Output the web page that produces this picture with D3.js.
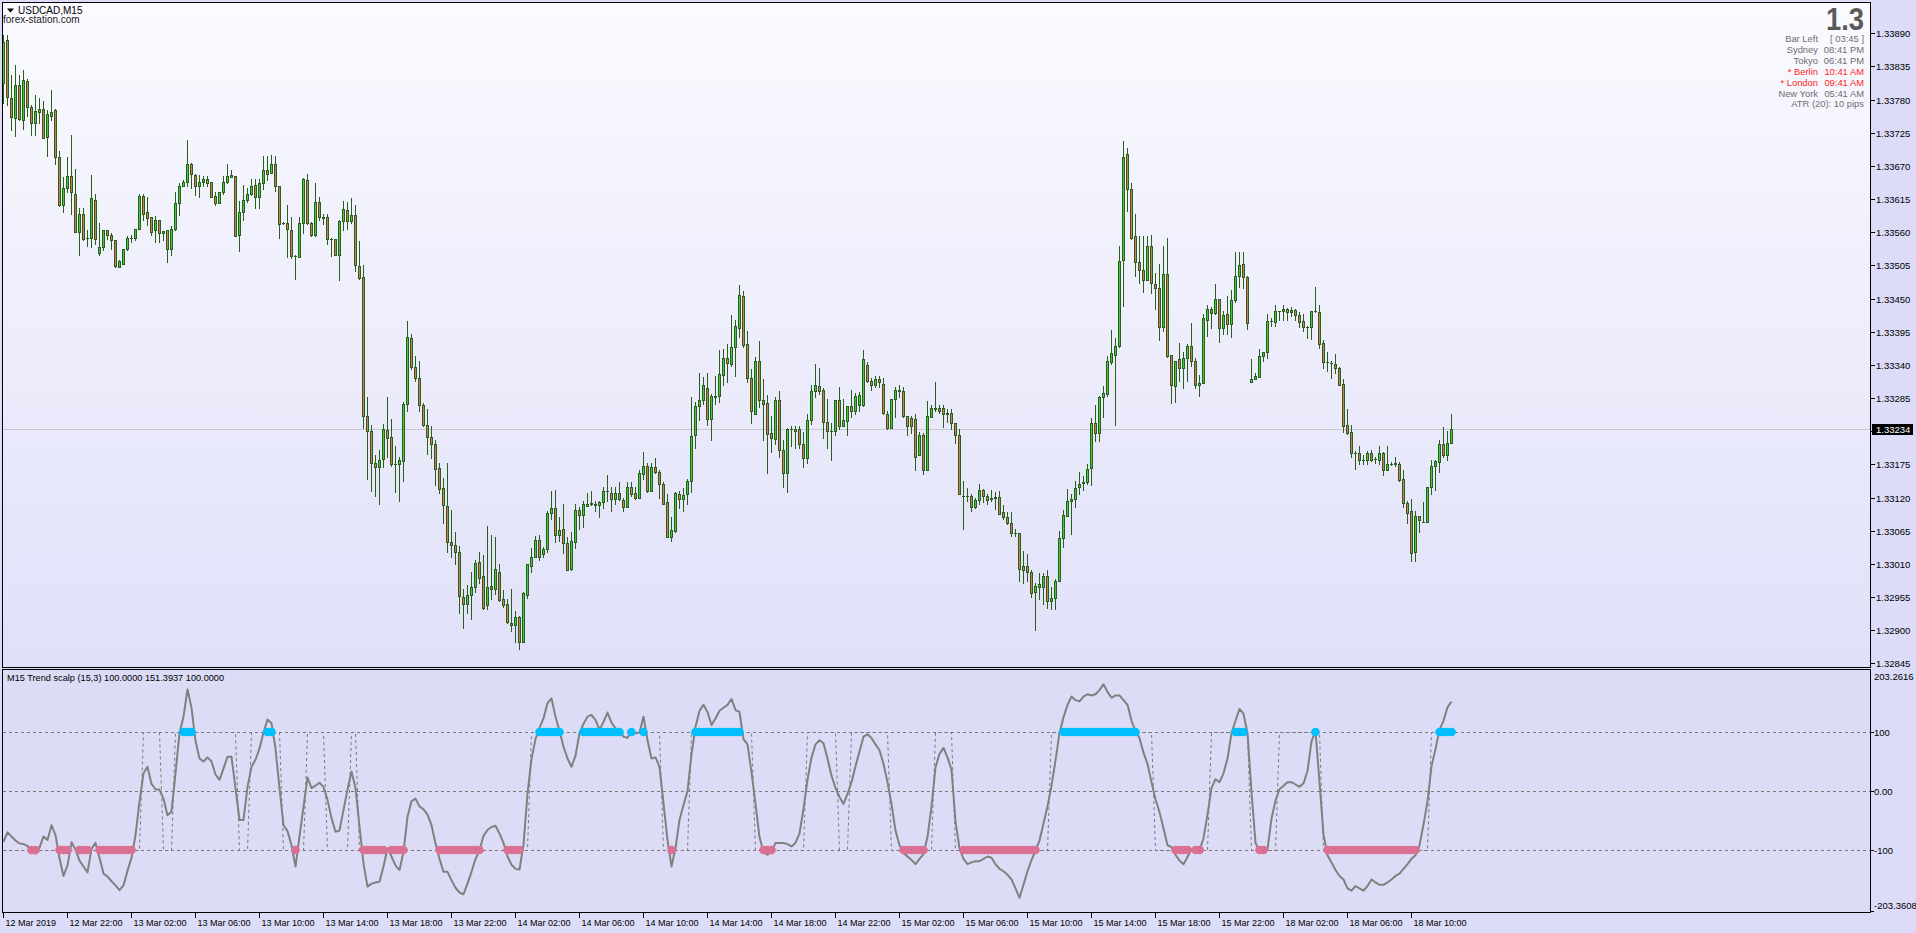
<!DOCTYPE html>
<html><head><meta charset="utf-8">
<script src="https://cdn.jsdelivr.net/npm/d3@7"></script>
<style>
body{margin:0;background:#DCDCF8;overflow:hidden}
svg{display:block}
text{font-family:"Liberation Sans",Arial,sans-serif}
</style>
</head><body>
<svg id="c" width="1916" height="933"></svg>
<script>
// ---------- DATA ----------
const openP=[1.33807,1.33879,1.33782,1.33749,1.33805,1.33747,1.33811,1.33767,1.33741,1.33760,
1.33764,1.33718,1.33753,1.33763,1.33685,1.33606,1.33634,1.33654,1.33624,1.33561,
1.33591,1.33551,1.33550,1.33614,1.33525,1.33536,1.33563,1.33555,1.33547,1.33503,
1.33508,1.33532,1.33551,1.33551,1.33566,1.33620,1.33593,1.33585,1.33563,1.33581,
1.33558,1.33563,1.33532,1.33565,1.33608,1.33637,1.33644,1.33674,1.33655,1.33636,
1.33643,1.33648,1.33643,1.33620,1.33609,1.33626,1.33644,1.33652,1.33653,1.33555,
1.33594,1.33614,1.33623,1.33638,1.33619,1.33641,1.33663,1.33658,1.33674,1.33637,
1.33575,1.33575,1.33564,1.33520,1.33519,1.33576,1.33646,1.33576,1.33556,1.33611,
1.33583,1.33586,1.33548,1.33548,1.33523,1.33578,1.33597,1.33578,1.33588,1.33504,
1.33486,1.33255,1.33230,1.33177,1.33170,1.33184,1.33232,1.33220,1.33176,1.33176,
1.33180,1.33275,1.33385,1.33337,1.33318,1.33274,1.33240,1.33220,1.33209,1.33169,
1.33136,1.33106,1.33046,1.33041,1.33029,1.32955,1.32943,1.32958,1.32972,1.33013,
1.32990,1.32942,1.32973,1.32968,1.32996,1.32952,1.32943,1.32912,1.32909,1.32922,
1.32880,1.32959,1.33007,1.33021,1.33050,1.33026,1.33035,1.33095,1.33103,1.33058,
1.33068,1.33045,1.33001,1.33046,1.33099,1.33091,1.33106,1.33109,1.33110,1.33108,
1.33112,1.33130,1.33128,1.33117,1.33128,1.33116,1.33105,1.33137,1.33128,1.33119,
1.33159,1.33172,1.33131,1.33171,1.33162,1.33142,1.33113,1.33054,1.33065,1.33126,
1.33118,1.33126,1.33147,1.33224,1.33271,1.33282,1.33302,1.33250,1.33286,1.33288,
1.33323,1.33351,1.33341,1.33370,1.33401,1.33454,1.33375,1.33318,1.33259,1.33347,
1.33282,1.33277,1.33227,1.33217,1.33282,1.33199,1.33161,1.33234,1.33234,1.33234,
1.33209,1.33185,1.33249,1.33297,1.33305,1.33298,1.33245,1.33230,1.33230,1.33281,
1.33238,1.33247,1.33271,1.33263,1.33274,1.33274,1.33340,1.33313,1.33306,1.33317,
1.33308,1.33259,1.33235,1.33283,1.33298,1.33297,1.33256,1.33252,1.33251,1.33190,
1.33223,1.33166,1.33254,1.33266,1.33269,1.33269,1.33260,1.33260,1.33244,1.33224,
1.33123,1.33123,1.33123,1.33104,1.33116,1.33133,1.33123,1.33119,1.33119,1.33121,
1.33096,1.33088,1.33077,1.33061,1.33061,1.33007,1.33006,1.32997,1.32963,1.32971,
1.32971,1.32989,1.32948,1.32953,1.32982,1.33053,1.33090,1.33114,1.33118,1.33137,
1.33144,1.33145,1.33169,1.33244,1.33227,1.33286,1.33292,1.33345,1.33357,1.33371,
1.33514,1.33689,1.33632,1.33553,1.33510,1.33498,1.33481,1.33537,1.33474,1.33468,
1.33403,1.33490,1.33357,1.33305,1.33349,1.33334,1.33352,1.33371,1.33347,1.33307,
1.33310,1.33415,1.33433,1.33426,1.33450,1.33401,1.33425,1.33407,1.33447,1.33488,
1.33508,1.33485,1.33311,1.33317,1.33320,1.33355,1.33361,1.33412,1.33411,1.33429,
1.33429,1.33433,1.33428,1.33431,1.33423,1.33412,1.33403,1.33403,1.33429,1.33428,
1.33377,1.33344,1.33343,1.33342,1.33334,1.33309,1.33240,1.33229,1.33194,1.33194,
1.33183,1.33183,1.33194,1.33184,1.33183,1.33194,1.33166,1.33176,1.33175,1.33175,
1.33151,1.33111,1.33097,1.33029,1.33089,1.33080,1.33079,1.33138,1.33172,1.33179,
1.33209,1.33190,1.33211];
const highP=[1.33887,1.33887,1.33821,1.33837,1.33821,1.33829,1.33815,1.33771,1.33788,1.33782,
1.33777,1.33762,1.33796,1.33765,1.33694,1.33652,1.33685,1.33722,1.33665,1.33600,
1.33600,1.33564,1.33655,1.33624,1.33575,1.33564,1.33564,1.33558,1.33547,1.33514,
1.33533,1.33553,1.33555,1.33566,1.33623,1.33624,1.33619,1.33586,1.33587,1.33581,
1.33562,1.33563,1.33570,1.33626,1.33641,1.33647,1.33713,1.33675,1.33657,1.33655,
1.33654,1.33654,1.33643,1.33626,1.33627,1.33653,1.33673,1.33663,1.33654,1.33612,
1.33638,1.33633,1.33648,1.33648,1.33648,1.33686,1.33686,1.33688,1.33686,1.33637,
1.33577,1.33605,1.33586,1.33522,1.33585,1.33650,1.33657,1.33577,1.33641,1.33619,
1.33591,1.33591,1.33550,1.33548,1.33580,1.33612,1.33611,1.33616,1.33605,1.33546,
1.33506,1.33287,1.33241,1.33191,1.33198,1.33242,1.33287,1.33251,1.33206,1.33188,
1.33279,1.33413,1.33392,1.33355,1.33347,1.33277,1.33267,1.33239,1.33215,1.33177,
1.33152,1.33178,1.33100,1.33063,1.33040,1.32968,1.32975,1.32997,1.33017,1.33030,
1.33025,1.33072,1.33057,1.33054,1.33010,1.32967,1.32951,1.32969,1.32932,1.32924,
1.32964,1.33010,1.33036,1.33056,1.33057,1.33038,1.33097,1.33130,1.33133,1.33088,
1.33109,1.33054,1.33063,1.33109,1.33105,1.33115,1.33128,1.33130,1.33115,1.33115,
1.33138,1.33158,1.33138,1.33138,1.33145,1.33119,1.33146,1.33146,1.33138,1.33166,
1.33196,1.33178,1.33177,1.33186,1.33166,1.33146,1.33126,1.33088,1.33129,1.33130,
1.33136,1.33151,1.33287,1.33279,1.33327,1.33320,1.33327,1.33291,1.33322,1.33365,
1.33366,1.33374,1.33422,1.33415,1.33473,1.33462,1.33397,1.33333,1.33353,1.33380,
1.33317,1.33290,1.33256,1.33287,1.33296,1.33215,1.33236,1.33239,1.33238,1.33239,
1.33229,1.33258,1.33307,1.33342,1.33334,1.33301,1.33284,1.33243,1.33282,1.33304,
1.33284,1.33272,1.33298,1.33293,1.33295,1.33365,1.33345,1.33318,1.33322,1.33322,
1.33319,1.33264,1.33283,1.33303,1.33306,1.33304,1.33256,1.33256,1.33258,1.33228,
1.33227,1.33280,1.33274,1.33312,1.33274,1.33274,1.33267,1.33266,1.33244,1.33233,
1.33148,1.33135,1.33126,1.33119,1.33142,1.33134,1.33126,1.33133,1.33129,1.33130,
1.33107,1.33096,1.33096,1.33068,1.33061,1.33031,1.33026,1.33000,1.32978,1.32995,
1.32994,1.32999,1.32971,1.32985,1.33065,1.33100,1.33134,1.33126,1.33147,1.33162,
1.33155,1.33176,1.33252,1.33274,1.33288,1.33305,1.33355,1.33398,1.33385,1.33537,
1.33712,1.33699,1.33642,1.33591,1.33553,1.33553,1.33553,1.33556,1.33492,1.33508,
1.33537,1.33551,1.33357,1.33347,1.33377,1.33361,1.33375,1.33410,1.33351,1.33324,
1.33424,1.33440,1.33436,1.33474,1.33450,1.33430,1.33455,1.33464,1.33527,1.33527,
1.33527,1.33488,1.33349,1.33327,1.33367,1.33362,1.33424,1.33417,1.33439,1.33430,
1.33440,1.33435,1.33436,1.33433,1.33428,1.33425,1.33405,1.33430,1.33470,1.33439,
1.33381,1.33362,1.33347,1.33358,1.33336,1.33317,1.33266,1.33240,1.33197,1.33205,
1.33190,1.33197,1.33198,1.33188,1.33205,1.33195,1.33205,1.33179,1.33188,1.33179,
1.33166,1.33115,1.33118,1.33097,1.33090,1.33113,1.33138,1.33182,1.33182,1.33216,
1.33237,1.33230,1.33259];
const lowP=[1.33774,1.33771,1.33730,1.33720,1.33746,1.33732,1.33752,1.33721,1.33721,1.33741,
1.33716,1.33686,1.33746,1.33673,1.33603,1.33594,1.33627,1.33591,1.33560,1.33522,
1.33547,1.33537,1.33536,1.33541,1.33522,1.33530,1.33548,1.33532,1.33502,1.33502,
1.33508,1.33530,1.33543,1.33547,1.33565,1.33580,1.33572,1.33555,1.33544,1.33544,
1.33547,1.33511,1.33522,1.33563,1.33588,1.33636,1.33636,1.33633,1.33622,1.33619,
1.33636,1.33636,1.33619,1.33605,1.33609,1.33624,1.33641,1.33652,1.33553,1.33529,
1.33580,1.33611,1.33621,1.33600,1.33601,1.33631,1.33647,1.33658,1.33629,1.33550,
1.33574,1.33519,1.33518,1.33483,1.33519,1.33558,1.33574,1.33554,1.33554,1.33580,
1.33574,1.33541,1.33520,1.33522,1.33481,1.33564,1.33566,1.33576,1.33495,1.33483,
1.33235,1.33150,1.33130,1.33122,1.33109,1.33171,1.33187,1.33173,1.33129,1.33114,
1.33147,1.33263,1.33333,1.33313,1.33263,1.33239,1.33193,1.33186,1.33141,1.33127,
1.33077,1.33029,1.33021,1.33009,1.32929,1.32903,1.32928,1.32918,1.32963,1.32978,
1.32935,1.32935,1.32952,1.32960,1.32948,1.32939,1.32912,1.32899,1.32880,1.32868,
1.32880,1.32953,1.32996,1.33021,1.33016,1.33021,1.33029,1.33084,1.33046,1.33048,
1.33028,1.32999,1.33000,1.33037,1.33068,1.33071,1.33106,1.33108,1.33098,1.33088,
1.33102,1.33115,1.33098,1.33109,1.33116,1.33098,1.33104,1.33123,1.33117,1.33119,
1.33151,1.33129,1.33130,1.33160,1.33119,1.33109,1.33054,1.33048,1.33062,1.33102,
1.33098,1.33109,1.33129,1.33202,1.33249,1.33275,1.33240,1.33215,1.33275,1.33278,
1.33307,1.33311,1.33338,1.33321,1.33386,1.33369,1.33311,1.33243,1.33259,1.33270,
1.33216,1.33160,1.33195,1.33209,1.33187,1.33137,1.33129,1.33206,1.33202,1.33202,
1.33170,1.33177,1.33242,1.33286,1.33292,1.33218,1.33202,1.33183,1.33223,1.33234,
1.33238,1.33224,1.33253,1.33258,1.33263,1.33272,1.33311,1.33299,1.33304,1.33303,
1.33258,1.33233,1.33235,1.33253,1.33286,1.33253,1.33224,1.33227,1.33166,1.33190,
1.33159,1.33166,1.33253,1.33264,1.33260,1.33237,1.33245,1.33233,1.33210,1.33126,
1.33067,1.33114,1.33097,1.33103,1.33110,1.33112,1.33109,1.33114,1.33101,1.33092,
1.33084,1.33076,1.33056,1.33056,1.32982,1.32978,1.32982,1.32955,1.32900,1.32952,
1.32944,1.32937,1.32935,1.32935,1.32981,1.33038,1.33089,1.33059,1.33104,1.33125,
1.33132,1.33143,1.33140,1.33213,1.33213,1.33253,1.33288,1.33342,1.33240,1.33370,
1.33438,1.33596,1.33549,1.33487,1.33475,1.33461,1.33480,1.33459,1.33433,1.33381,
1.33397,1.33353,1.33277,1.33278,1.33313,1.33302,1.33313,1.33338,1.33302,1.33289,
1.33310,1.33388,1.33402,1.33425,1.33378,1.33392,1.33391,1.33386,1.33445,1.33469,
1.33467,1.33399,1.33311,1.33317,1.33320,1.33347,1.33352,1.33404,1.33404,1.33414,
1.33414,1.33415,1.33421,1.33415,1.33403,1.33396,1.33385,1.33383,1.33428,1.33368,
1.33334,1.33330,1.33318,1.33326,1.33306,1.33229,1.33225,1.33188,1.33168,1.33176,
1.33176,1.33176,1.33180,1.33177,1.33176,1.33158,1.33165,1.33174,1.33173,1.33148,
1.33104,1.33078,1.33014,1.33015,1.33063,1.33079,1.33079,1.33125,1.33133,1.33162,
1.33187,1.33182,1.33211];
const closeP=[1.33876,1.33784,1.33751,1.33804,1.33748,1.33812,1.33767,1.33741,1.33761,1.33764,
1.33717,1.33756,1.33759,1.33684,1.33606,1.33634,1.33653,1.33626,1.33561,1.33590,
1.33549,1.33551,1.33616,1.33548,1.33536,1.33563,1.33556,1.33547,1.33504,1.33512,
1.33532,1.33550,1.33551,1.33566,1.33620,1.33591,1.33583,1.33561,1.33580,1.33558,
1.33562,1.33533,1.33565,1.33608,1.33637,1.33644,1.33673,1.33656,1.33636,1.33644,
1.33649,1.33642,1.33619,1.33609,1.33626,1.33644,1.33653,1.33655,1.33554,1.33593,
1.33614,1.33623,1.33637,1.33619,1.33641,1.33664,1.33656,1.33674,1.33637,1.33573,
1.33575,1.33565,1.33521,1.33520,1.33576,1.33648,1.33576,1.33556,1.33611,1.33586,
1.33586,1.33548,1.33548,1.33523,1.33578,1.33598,1.33578,1.33588,1.33506,1.33484,
1.33255,1.33230,1.33178,1.33170,1.33182,1.33234,1.33219,1.33176,1.33176,1.33182,
1.33275,1.33386,1.33336,1.33318,1.33274,1.33240,1.33220,1.33209,1.33168,1.33134,
1.33107,1.33046,1.33042,1.33029,1.32957,1.32943,1.32959,1.32972,1.33011,1.32986,
1.32936,1.32972,1.32969,1.33001,1.32950,1.32942,1.32913,1.32909,1.32922,1.32880,
1.32961,1.33009,1.33021,1.33050,1.33021,1.33035,1.33094,1.33103,1.33058,1.33066,
1.33045,1.33000,1.33048,1.33099,1.33091,1.33109,1.33109,1.33111,1.33107,1.33113,
1.33130,1.33130,1.33117,1.33127,1.33117,1.33104,1.33137,1.33125,1.33119,1.33161,
1.33172,1.33131,1.33171,1.33162,1.33142,1.33110,1.33054,1.33066,1.33128,1.33118,
1.33124,1.33147,1.33222,1.33271,1.33282,1.33307,1.33251,1.33288,1.33288,1.33325,
1.33351,1.33343,1.33370,1.33405,1.33456,1.33373,1.33318,1.33263,1.33347,1.33282,
1.33275,1.33225,1.33219,1.33282,1.33199,1.33161,1.33234,1.33234,1.33231,1.33209,
1.33185,1.33249,1.33297,1.33307,1.33297,1.33245,1.33230,1.33230,1.33281,1.33238,
1.33249,1.33271,1.33263,1.33289,1.33290,1.33349,1.33313,1.33306,1.33317,1.33311,
1.33260,1.33235,1.33283,1.33298,1.33296,1.33255,1.33238,1.33238,1.33188,1.33223,
1.33166,1.33256,1.33269,1.33269,1.33264,1.33259,1.33258,1.33244,1.33224,1.33126,
1.33123,1.33123,1.33105,1.33116,1.33133,1.33123,1.33116,1.33117,1.33121,1.33093,
1.33087,1.33077,1.33061,1.33061,1.33001,1.33000,1.32996,1.32961,1.32974,1.32976,
1.32989,1.32948,1.32953,1.32982,1.33053,1.33091,1.33115,1.33118,1.33136,1.33142,
1.33145,1.33168,1.33244,1.33227,1.33286,1.33294,1.33346,1.33360,1.33371,1.33513,
1.33685,1.33632,1.33551,1.33511,1.33498,1.33481,1.33537,1.33476,1.33468,1.33403,
1.33490,1.33355,1.33307,1.33347,1.33334,1.33352,1.33371,1.33347,1.33307,1.33310,
1.33417,1.33433,1.33426,1.33450,1.33401,1.33423,1.33407,1.33448,1.33488,1.33506,
1.33486,1.33409,1.33317,1.33321,1.33355,1.33362,1.33412,1.33412,1.33429,1.33429,
1.33433,1.33428,1.33431,1.33423,1.33411,1.33403,1.33403,1.33429,1.33429,1.33375,
1.33344,1.33344,1.33343,1.33334,1.33307,1.33238,1.33227,1.33194,1.33194,1.33183,
1.33183,1.33194,1.33183,1.33184,1.33194,1.33166,1.33176,1.33176,1.33177,1.33149,
1.33111,1.33095,1.33028,1.33089,1.33083,1.33080,1.33138,1.33172,1.33180,1.33209,
1.33190,1.33211,1.33234];
const trendScalp=[-86,-70,-77,-84,-89,-90,-93,-104,-106,-96,
-77,-83,-58,-75,-114,-144,-126,-87,-99,-118,
-128,-138,-98,-88,-113,-140,-145,-153,-160,-168,
-160,-135,-113,-75,-18,30,41,12,3,2,
-13,-41,-35,30,98,126,172,141,85,55,
50,57,50,28,19,38,58,58,5,-49,
-49,7,41,53,72,99,121,115,72,5,
-58,-68,-92,-128,-77,-27,23,5,9,14,
7,-15,-46,-69,-67,-32,2,33,5,-60,
-123,-162,-157,-155,-154,-128,-97,-111,-126,-134,
-103,-44,-17,-13,-26,-31,-40,-58,-89,-115,
-137,-137,-151,-164,-172,-175,-157,-137,-115,-101,
-76,-66,-61,-59,-72,-88,-111,-125,-132,-133,
-91,-5,54,88,107,123,149,157,126,102,
75,55,41,60,98,114,126,129,120,104,
117,133,116,106,103,92,90,103,98,99,
126,86,55,57,41,-21,-83,-128,-97,-49,
-24,0,62,109,136,146,134,112,123,136,
141,146,156,137,134,88,79,32,-22,-78,
-104,-108,-103,-88,-88,-88,-90,-94,-88,-72,
-30,19,57,79,86,81,55,26,5,-10,
-22,-5,15,42,67,92,96,90,79,69,
46,15,-22,-67,-92,-105,-111,-117,-124,-115,
-107,-78,-26,40,63,73,57,36,-51,-97,
-115,-124,-121,-119,-119,-115,-111,-113,-124,-132,
-136,-142,-150,-165,-181,-159,-136,-117,-101,-84,
-55,-26,9,52,98,125,146,160,154,152,
160,164,162,164,171,181,168,158,162,162,
154,146,119,102,90,65,46,15,-14,-36,
-63,-92,-95,-108,-118,-124,-112,-98,-105,-101,
-80,-40,5,20,15,30,55,98,119,139,
131,98,-1,-88,-101,-101,-99,-47,-16,3,
9,15,15,11,7,13,34,84,102,15,
-74,-109,-121,-134,-144,-150,-165,-169,-161,-165,
-169,-161,-150,-155,-159,-159,-155,-150,-144,-140,
-132,-124,-115,-109,-92,-57,-18,42,71,104,
119,142,151.3937];
const trendStart=-100;
const trendFlips=[35,40,43,59,62,70,76,81,87,89,132,165,172,188,201,209,212,222,233,238,262,288,302,312,319,330,357];
const priceTicks=d3.range(20).map(k=>+(1.32845+0.00055*k).toFixed(5));
const timeBars=d3.range(23).map(k=>k*16);
const timeLabels=["12 Mar 2019","12 Mar 22:00","13 Mar 02:00","13 Mar 06:00","13 Mar 10:00","13 Mar 14:00","13 Mar 18:00","13 Mar 22:00","14 Mar 02:00","14 Mar 06:00","14 Mar 10:00","14 Mar 14:00","14 Mar 18:00","14 Mar 22:00","15 Mar 02:00","15 Mar 06:00","15 Mar 10:00","15 Mar 14:00","15 Mar 18:00","15 Mar 22:00","18 Mar 02:00","18 Mar 06:00","18 Mar 10:00"];
const oscLevels=[100,0,-100];
const oscLevelLabels=["100","0.00","-100"];
const oscMax=203.2616, oscMin=-203.3608;
const lastPrice=1.33234;
const infoLabels=["Bar Left","Sydney","Tokyo","* Berlin","* London","New York"];
const infoValues=["[ 03:45 ]","08:41 PM","06:41 PM","10:41 AM","09:41 AM","05:41 AM"];
const infoRed=[false,false,false,true,true,false];
const atrText="ATR (20): 10 pips";

// ---------- DRAW ----------
const svg=d3.select("#c");
const defs=svg.append("defs");
const g=defs.append("linearGradient").attr("id","bg").attr("x1",0).attr("y1",0).attr("x2",0).attr("y2",1);
g.append("stop").attr("offset","0%").attr("stop-color","#FAFAFF");
g.append("stop").attr("offset","100%").attr("stop-color","#E0E0F9");
defs.append("clipPath").attr("id","mainClip").append("rect").attr("x",3).attr("y",3).attr("width",1867).attr("height",664);
defs.append("clipPath").attr("id","oscClip").append("rect").attr("x",3).attr("y",670).attr("width",1867).attr("height",242);

svg.append("rect").attr("width",1916).attr("height",933).attr("fill","#DCDCF8");
svg.append("rect").attr("x",2.5).attr("y",2.5).attr("width",1868).attr("height",665).attr("fill","url(#bg)").attr("stroke","#000");
svg.append("rect").attr("x",2.5).attr("y",669.5).attr("width",1868).attr("height",243).attr("fill","#DCDCF6").attr("stroke","#000");

const N=closeP.length;
const x=d3.scaleLinear().domain([0,N-1]).range([3.5,3.5+4*(N-1)]);
const y=d3.scaleLinear().domain([1.32845,1.33890]).range([663.3,33.3]);
const yo=d3.scaleLinear().domain([-100,100]).range([850,732]);

const main=svg.append("g").attr("clip-path","url(#mainClip)");
main.append("line").attr("x1",3).attr("x2",1870).attr("y1",Math.round(y(lastPrice))+0.5).attr("y2",Math.round(y(lastPrice))+0.5).attr("stroke","#C8C8D0");

const wickC="#2A5E1E", bullC="#3FCB3A", bearC="#D27A50";
const cg=main.append("g");
d3.range(N).forEach(i=>{
  const cx=x(i), o=openP[i], c=closeP[i];
  cg.append("line").attr("x1",cx).attr("x2",cx).attr("y1",Math.round(y(highP[i]))).attr("y2",Math.round(y(lowP[i]))+1).attr("stroke",wickC);
  const t=Math.round(y(Math.max(o,c)))+0.5, b=Math.round(y(Math.min(o,c)))+0.5;
  if(b-t<1){
    cg.append("line").attr("x1",cx-1.5).attr("x2",cx+1.5).attr("y1",t).attr("y2",t).attr("stroke",wickC);
  } else {
    cg.append("rect").attr("x",cx-1).attr("y",t).attr("width",2).attr("height",b-t)
      .attr("fill",c>=o?bullC:bearC).attr("stroke",wickC).attr("stroke-width",1);
  }
});

// title
svg.append("path").attr("d","M7,8.5 L14,8.5 L10.5,12.5 Z").attr("fill","#000");
svg.append("text").attr("x",18).attr("y",13.5).attr("font-size",10).attr("fill","#000").text("USDCAD,M15");
svg.append("text").attr("x",3).attr("y",23).attr("font-size",10).attr("fill","#222").text("forex-station.com");

// info block
svg.append("text").attr("x",1826).attr("y",30).attr("font-size",32).attr("font-weight","bold").attr("fill","#5A5A5A")
  .attr("textLength",38).attr("lengthAdjust","spacingAndGlyphs").text("1.3");
infoLabels.forEach((l,k)=>{
  const col=infoRed[k]?"#FF1E1E":"#6E6E6E";
  svg.append("text").attr("x",1818).attr("y",42+k*10.9).attr("text-anchor","end").attr("font-size",9.4).attr("fill",col).text(l);
  svg.append("text").attr("x",1864).attr("y",42+k*10.9).attr("text-anchor","end").attr("font-size",9.4).attr("fill",col).text(infoValues[k]);
});
svg.append("text").attr("x",1864).attr("y",42+6*10.9).attr("text-anchor","end").attr("font-size",9.4).attr("fill","#6E6E6E").text(atrText);

// price axis
const pa=svg.append("g");
priceTicks.forEach(p=>{
  const yy=Math.round(y(p))+0.5;
  pa.append("line").attr("x1",1871).attr("x2",1875).attr("y1",yy).attr("y2",yy).attr("stroke","#000");
  pa.append("text").attr("x",1876).attr("y",yy+3.5).attr("font-size",9.5).attr("fill","#000").text(p.toFixed(5));
});
const ly=Math.round(y(lastPrice));
pa.append("rect").attr("x",1872).attr("y",ly-5).attr("width",41).attr("height",11).attr("fill","#000");
pa.append("text").attr("x",1876).attr("y",ly+4).attr("font-size",9.5).attr("fill","#fff").text(lastPrice.toFixed(5));

// oscillator
const osc=svg.append("g").attr("clip-path","url(#oscClip)");
oscLevels.forEach(v=>{
  osc.append("line").attr("x1",3).attr("x2",1870).attr("y1",Math.round(yo(v))+0.5).attr("y2",Math.round(yo(v))+0.5)
    .attr("stroke","#7A7A7A").attr("stroke-dasharray","3,3");
});
const trend=[]; let cur=trendStart, fi=0;
for(let i=0;i<N;i++){ if(fi<trendFlips.length && trendFlips[fi]===i){cur=-cur;fi++;} trend.push(cur); }
osc.append("path").attr("d",d3.line().x((d,i)=>x(i)).y(d=>yo(d)+0.5)(trend)).attr("fill","none")
  .attr("stroke","#7A7A7A").attr("stroke-width",1).attr("stroke-dasharray","3,3");
osc.append("path").attr("d",d3.line().x((d,i)=>x(i)).y(d=>yo(d))(trendScalp)).attr("fill","none")
  .attr("stroke","#808080").attr("stroke-width",2).attr("stroke-linejoin","round");
trendScalp.forEach((v,i)=>{
  if(v>100) osc.append("circle").attr("cx",x(i)).attr("cy",yo(100)).attr("r",4.3).attr("fill","#00BFFF");
  else if(v<-100) osc.append("circle").attr("cx",x(i)).attr("cy",yo(-100)).attr("r",4.3).attr("fill","#DB7093");
});
svg.append("text").attr("x",7).attr("y",681).attr("font-size",9.2).attr("fill","#000")
  .text("M15 Trend scalp (15,3) 100.0000 "+trendScalp[N-1].toFixed(4)+" 100.0000");

// osc axis
const oa=svg.append("g");
oscLevels.forEach((v,k)=>{
  const yy=Math.round(yo(v))+0.5;
  oa.append("line").attr("x1",1871).attr("x2",1874).attr("y1",yy).attr("y2",yy).attr("stroke","#000");
  oa.append("text").attr("x",1874).attr("y",yy+3.5).attr("font-size",9.5).attr("fill","#000").text(oscLevelLabels[k]);
});
oa.append("text").attr("x",1874).attr("y",680).attr("font-size",9.5).attr("fill","#000").text(oscMax.toFixed(4));
oa.append("text").attr("x",1874).attr("y",909).attr("font-size",9.5).attr("fill","#000").text(oscMin.toFixed(4));
oa.append("line").attr("x1",1871).attr("x2",1874).attr("y1",911.5).attr("y2",911.5).attr("stroke","#000");

// time axis
const ta=svg.append("g");
timeBars.forEach((b,k)=>{
  const xx=Math.floor(x(b))+0.5;
  ta.append("line").attr("x1",xx).attr("x2",xx).attr("y1",913).attr("y2",918).attr("stroke","#000");
  ta.append("text").attr("x",xx+2).attr("y",926).attr("font-size",9).attr("fill","#000").text(timeLabels[k]);
});
</script>
</body></html>
